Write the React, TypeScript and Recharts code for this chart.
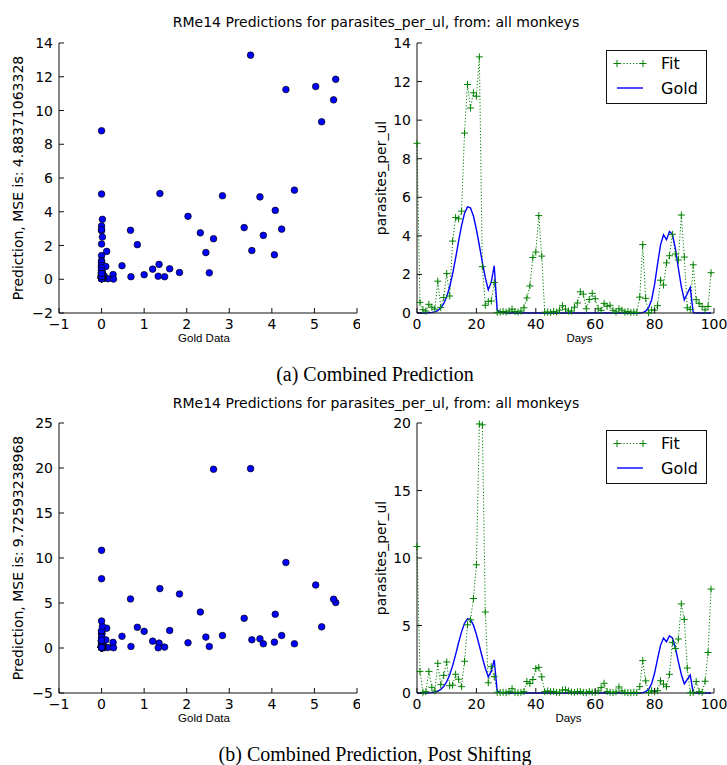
import React from 'react'
import { Label, Legend, Line, LineChart, Scatter, ScatterChart, XAxis, YAxis } from 'recharts'

// blood parasite counts per day (gold) and the two model fits
const gold = [
  0, 0, 0, 0, 0.01, 0.03, 0.06, 0.12, 0.27, 0.48,
  0.84, 1.35, 2.03, 2.84, 3.72, 4.53, 5.17, 5.5, 5.45, 5.03,
  4.33, 3.5, 2.63, 1.83, 1.2, 1.6, 2.45, 0.15, 0.05, 0.02,
  0.01, 0, 0, 0, 0, 0, 0, 0, 0, 0,
  0, 0, 0, 0, 0, 0, 0, 0, 0, 0,
  0, 0, 0, 0, 0, 0, 0, 0, 0, 0,
  0, 0, 0, 0, 0, 0, 0, 0, 0, 0,
  0, 0, 0, 0, 0, 0, 0.02, 0.1, 0.28, 0.69,
  1.48, 2.53, 3.53, 4.06, 3.8, 4.23, 4.08, 3.35, 2.32, 1.37,
  0.68, 1.0, 1.33, 0.02, 0, 0, 0, 0, 0, 0,
]

const fitCombined = [
  8.8, 0.55, 0.17, 0.1, 0.45, 0.3, 0.2, 1.65, 0.28, 0.8,
  2.05, 0.88, 3.73, 4.95, 4.88, 5.28, 9.33, 11.85, 10.63, 11.42,
  11.24, 13.28, 2.4, 0.4, 0.6, 0.62, 1.58, 0.03, 0.05, 0.08,
  0.05, 0.1, 0.2, 0.08, 0.05, 0.1, 0.27, 0.78, 1.4, 2.88,
  3.16, 5.05, 2.95, 0.04, 0.05, 0.03, 0.08, 0.05, 0.15, 0.38,
  0.2, 0.1, 0.1, 0.3, 0.52, 1.1, 0.98, 0.22, 0.7, 1.02,
  0.74, 0.22, 0.14, 0.5, 0.35, 0.4, 0.14, 0.05, 0.22, 0.15,
  0.05, 0.08, 0.03, 0.05, 0.03, 0.82, 3.55, 0.76, 0.01, 0.15,
  0.15, 0.38, 1.7, 1.45, 2.6, 2.97, 4.08, 3.06, 2.75, 5.08,
  2.9, 0.27, 0.18, 2.5, 0.69, 0.5, 0.34, 0.16, 0.34, 2.09,
]

const fitShifted = [
  10.85, 1.6, 0.05, 0.1, 1.6, 0.42, 0.15, 2.2, 0.62, 1.3,
  2.3, 0.54, 0.58, 1.39, 1.02, 0.47, 2.35, 5.05, 5.42, 7.0,
  9.5, 19.93, 19.86, 6.0, 0.76, 1.95, 1.21, 0.05, 0.03, 0.05,
  0.02, 0.1, 0.32, 0.05, 0.02, 0.05, 0.1, 0.85, 0.7, 1.0,
  1.8, 1.9, 1.2, 0.1, 0.15, 0.1, 0.12, 0.05, 0.05, 0.22,
  0.25, 0.15, 0.08, 0.05, 0.1, 0.12, 0.05, 0.03, 0.12, 0.05,
  0.03, 0.15, 0.4, 0.72, 0.12, 0.05, 0.03, 0.08, 0.45, 0.15,
  0.05, 0.03, 0.02, 0.05, 0.03, 0.47, 2.4, 0.9, 0.03, 0.17,
  0.1, 0.17, 0.91, 0.65, 0.47, 1.39, 3.75, 3.3, 4.0, 6.6,
  5.45, 1.85, 0.02, 0.05, 0.85, 0.1, 0.05, 0.87, 3.0, 7.7,
]

const goldTicks = [-1, 0, 1, 2, 3, 4, 5, 6]
const dayTicks = [0, 20, 40, 60, 80, 100]
const predTicksA = [-2, 0, 2, 4, 6, 8, 10, 12, 14]
const predTicksB = [-5, 0, 5, 10, 15, 20, 25]
const fitTicksA = [0, 2, 4, 6, 8, 10, 12, 14]
const fitTicksB = [0, 5, 10, 15, 20]

const TITLE = 'RMe14 Predictions for parasites_per_ul, from: all monkeys'
const SANS = 'DejaVu Sans'
const BLUE = '#0000ff'
const GREEN = '#008000'
const FRAME = '#111'
const TICK = 5
const H = 345

const fmt = (v: number) => String(v).replace('-', '\u2212')

function LeftTick(p: any) {
  const ax = p.x + 6
  return (
    <g>
      <line x1={ax} x2={ax + TICK} y1={p.y} y2={p.y} stroke={FRAME} />
      <text x={p.x} y={p.y} dy='0.36em' textAnchor='end' fontSize={14} fontFamily={SANS} fill='#000'>
        {fmt(p.payload.value)}
      </text>
    </g>
  )
}

function BottomTick(p: any) {
  const ay = p.y - 6
  return (
    <g>
      <line x1={p.x} x2={p.x} y1={ay} y2={ay - TICK} stroke={FRAME} />
      <text x={p.x} y={p.y} dy='0.71em' textAnchor='middle' fontSize={14} fontFamily={SANS} fill='#000'>
        {fmt(p.payload.value)}
      </text>
    </g>
  )
}

const TopTick = (p: any) => <line x1={p.x} x2={p.x} y1={p.y} y2={p.y + TICK} stroke={FRAME} />
const RightTick = (p: any) => <line x1={p.x} x2={p.x - TICK} y1={p.y} y2={p.y} stroke={FRAME} />

function yTitle(text: string, bx: number) {
  return (p: any) => {
    const vb = p.viewBox
    const x = vb.x + bx
    const y = vb.y + vb.height / 2
    return (
      <text x={x} y={y} transform={`rotate(-90 ${x} ${y})`} textAnchor='middle' fontSize={14} fontFamily={SANS} fill='#000'>
        {text}
      </text>
    )
  }
}

function xTitle(text: string, dx: number) {
  return (p: any) => {
    const vb = p.viewBox
    return (
      <text x={vb.x + vb.width / 2 + dx} y={vb.y + 29} textAnchor='middle' fontSize={11.5} fontFamily='Liberation Sans' fill='#000'>
        {text}
      </text>
    )
  }
}

const plus = (x: number, y: number) => `M${x - 3.5},${y}h7M${x},${y - 3.5}v7`

function FitDot(p: any) {
  if (p.cx == null || p.cy == null) return <g key={p.index} />
  return <path key={p.index} d={plus(p.cx, p.cy)} stroke={GREEN} strokeWidth={1} fill='none' />
}

function BlueDot(p: any) {
  return <circle cx={p.cx} cy={p.cy} r={3.3} fill={BLUE} stroke='#000' strokeWidth={0.7} />
}

function FitGoldLegend() {
  return (
    <div style={{ width: 101, height: 54, boxSizing: 'border-box', border: `1px solid ${FRAME}`, background: '#fff' }}>
      <svg width={99} height={52} style={{ display: 'block' }}>
        <line x1={10} x2={36} y1={12.5} y2={12.5} stroke={GREEN} strokeDasharray='1.2 2' />
        <path d={plus(10, 12.5) + plus(36, 12.5)} stroke={GREEN} fill='none' />
        <line x1={10} x2={36} y1={37} y2={37} stroke={BLUE} strokeWidth={1.4} />
        <text x={54} y={12.5} dy='0.36em' fontSize={16} fontFamily={SANS} fill='#000'>Fit</text>
        <text x={54} y={37} dy='0.36em' fontSize={16} fontFamily={SANS} fill='#000'>Gold</text>
      </svg>
    </div>
  )
}

function ScatterPanel({ fit, ticks, mse }: { fit: number[]; ticks: number[]; mse: string }) {
  const points = gold.map((g, i) => ({ gold: g, pred: fit[i] }))
  const domain = [ticks[0], ticks[ticks.length - 1]]
  return (
    <ScatterChart width={360} height={H} margin={{ top: 43, right: 3, bottom: 7, left: 0 }}>
      <XAxis dataKey='gold' type='number' domain={[-1, 6]} ticks={goldTicks} interval={0} height={25}
        tickSize={0} tickLine={false} tickMargin={6} tick={<BottomTick />} axisLine={{ stroke: FRAME }}
        label={<Label content={xTitle('Gold Data', -4)} />} />
      <XAxis xAxisId='top' orientation='top' type='number' domain={[-1, 6]} ticks={goldTicks} interval={0} height={0}
        tickSize={0} tickLine={false} tickMargin={0} tick={<TopTick />} axisLine={{ stroke: FRAME }} />
      <YAxis dataKey='pred' type='number' domain={domain} ticks={ticks} interval={0} width={59}
        tickSize={0} tickLine={false} tickMargin={6} tick={<LeftTick />} axisLine={{ stroke: FRAME }}
        label={<Label content={yTitle(`Prediction, MSE is: ${mse}`, 23)} />} />
      <YAxis yAxisId='right' orientation='right' type='number' domain={domain} ticks={ticks} interval={0} width={0}
        tickSize={0} tickLine={false} tickMargin={0} tick={<RightTick />} axisLine={{ stroke: FRAME }} />
      <Scatter data={points} shape={BlueDot} isAnimationActive={false} />
    </ScatterChart>
  )
}

function LinePanel({ fit, ticks, daysDx }: { fit: number[]; ticks: number[]; daysDx: number }) {
  const rows = gold.map((g, i) => ({ day: i, fit: fit[i], gold: g }))
  const domain = [ticks[0], ticks[ticks.length - 1]]
  return (
    <LineChart width={367} height={H} data={rows} margin={{ top: 43, right: 13, bottom: 7, left: 0 }}>
      <XAxis dataKey='day' type='number' domain={[0, 100]} ticks={dayTicks} interval={0} height={25}
        tickSize={0} tickLine={false} tickMargin={6} tick={<BottomTick />} axisLine={{ stroke: FRAME }}
        label={<Label content={xTitle('Days', daysDx)} />} />
      <XAxis xAxisId='top' orientation='top' type='number' domain={[0, 100]} ticks={dayTicks} interval={0} height={0}
        tickSize={0} tickLine={false} tickMargin={0} tick={<TopTick />} axisLine={{ stroke: FRAME }} />
      <YAxis type='number' domain={domain} ticks={ticks} interval={0} width={57}
        tickSize={0} tickLine={false} tickMargin={6} tick={<LeftTick />} axisLine={{ stroke: FRAME }}
        label={<Label content={yTitle('parasites_per_ul', 26)} />} />
      <YAxis yAxisId='right' orientation='right' type='number' domain={domain} ticks={ticks} interval={0} width={0}
        tickSize={0} tickLine={false} tickMargin={0} tick={<RightTick />} axisLine={{ stroke: FRAME }} />
      <Legend layout='horizontal' verticalAlign='middle' align='center' content={<FitGoldLegend />}
        wrapperStyle={{ top: 50, left: 246, width: 101, height: 54 }} />
      <Line dataKey='fit' type='linear' stroke={GREEN} strokeWidth={1} strokeDasharray='1.2 2'
        dot={FitDot} activeDot={false} isAnimationActive={false} />
      <Line dataKey='gold' type='linear' stroke={BLUE} strokeWidth={1.4} dot={false} activeDot={false}
        isAnimationActive={false} />
    </LineChart>
  )
}

export default function App() {
  return (
    <div style={{ position: 'absolute', left: 0, top: 0, width: 727, height: 765, background: '#fff' }}>
      <div style={{ position: 'absolute', left: 0, top: 0 }}>
        <ScatterPanel fit={fitCombined} ticks={predTicksA} mse='4.88371063328' />
      </div>
      <div style={{ position: 'absolute', left: 360, top: 0 }}>
        <LinePanel fit={fitCombined} ticks={fitTicksA} daysDx={14} />
      </div>
      <div style={{ position: 'absolute', left: 0, top: 380 }}>
        <ScatterPanel fit={fitShifted} ticks={predTicksB} mse='9.72593238968' />
      </div>
      <div style={{ position: 'absolute', left: 360, top: 380 }}>
        <LinePanel fit={fitShifted} ticks={fitTicksB} daysDx={3} />
      </div>
      <svg width={727} height={765} style={{ position: 'absolute', left: 0, top: 0, pointerEvents: 'none' }}>
        <text x={376} y={27} textAnchor='middle' fontSize={14} fontFamily={SANS} fill='#000'>{TITLE}</text>
        <text x={376} y={408} textAnchor='middle' fontSize={14} fontFamily={SANS} fill='#000'>{TITLE}</text>
        <text x={375} y={381} textAnchor='middle' fontSize={20} fontFamily='Liberation Serif' fill='#000'>
          (a) Combined Prediction
        </text>
        <text x={375} y={761} textAnchor='middle' fontSize={20} fontFamily='Liberation Serif' fill='#000'>
          (b) Combined Prediction, Post Shifting
        </text>
      </svg>
    </div>
  )
}
